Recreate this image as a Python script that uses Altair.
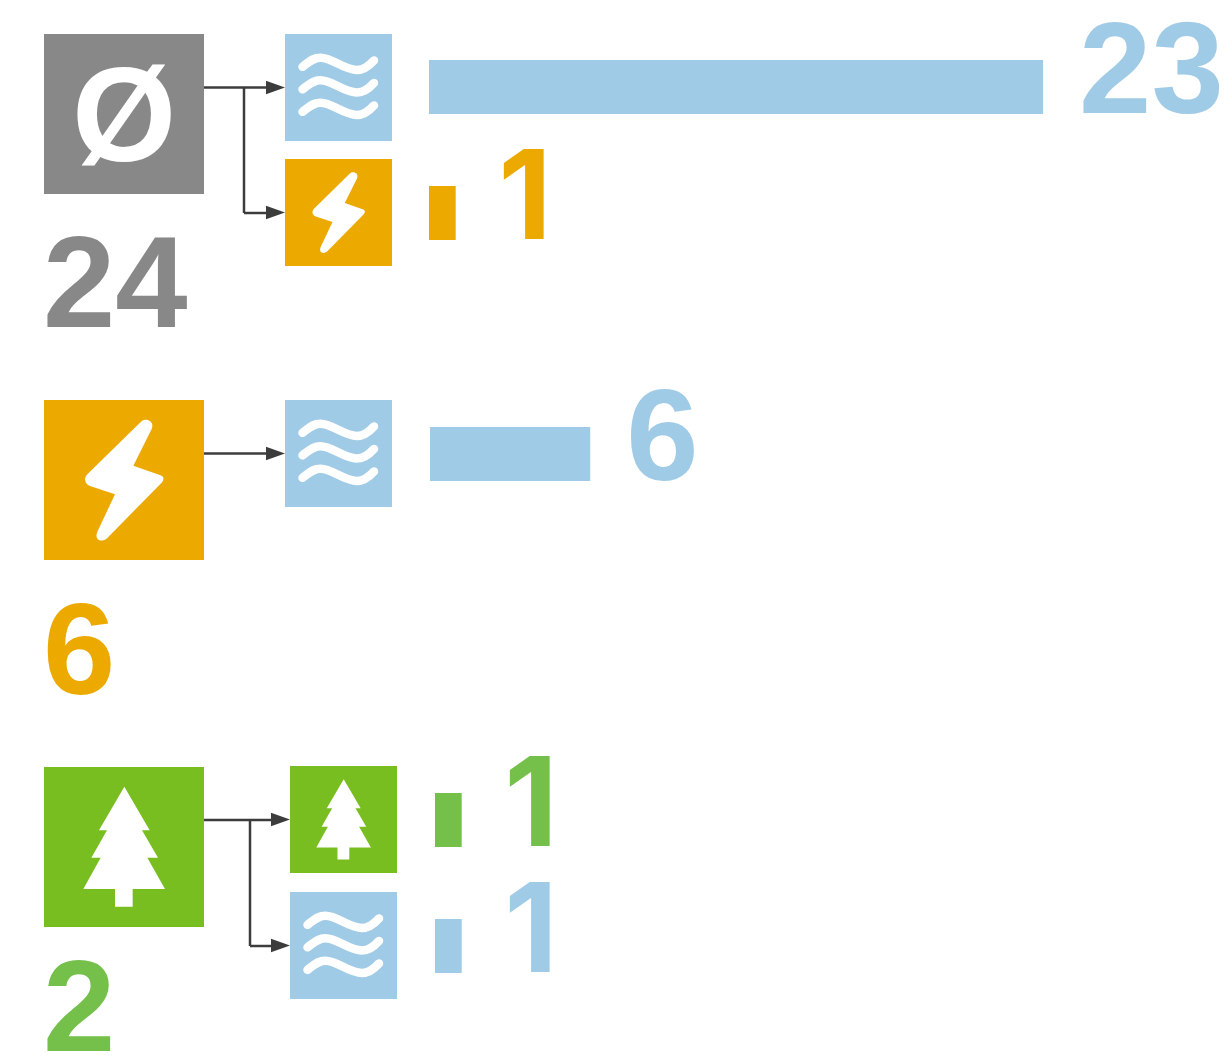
import re
import altair as alt
import pandas as pd

# ---- values ----
source_kinds = ["none", "power", "forest"]
source_counts = [24, 6, 2]
source_symbols = ["Ø", "", ""]
target_sources = ["none", "none", "power", "forest", "forest"]
target_kinds = ["water", "power", "water", "forest", "water"]
target_counts = [23, 1, 6, 1, 1]

# ---- styles and layout ----
BOX = {"none": "#888888", "power": "#ECAA00", "water": "#A0CBE6", "forest": "#78BE21"}
INK = {"none": "#888888", "power": "#ECAA00", "water": "#A0CBE6", "forest": "#74C04A"}
FONT = "Liberation Sans"
ONE_FONT = "Inter"
PX_PER_UNIT = 26.7
BIG, SMALL = 160, 107
source_left = [44, 44, 44]
source_top = [34, 400, 767]
source_label_x = [43, 43, 43]
source_label_base = [327, 694, 1051]
target_left = [285, 285, 285, 290, 290]
target_top = [34, 159, 400, 766, 892]
bar_left = [429, 429, 430, 435, 435]
bar_top = [60, 186, 427, 793, 919]
BAR_H = 54
label_gap = [36, 42.5, 36, 42.5, 42.5]
label_base = [113, 239, 480, 846, 972]
LINE = "#3C3C3C"


def normalise(path, span):
    def sub(m):
        x, y = float(m.group(1)), float(m.group(2))
        return f"{2 * x / span - 1:.4f},{2 * y / span - 1:.4f}"
    return re.sub(r"(-?[\d.]+),(-?[\d.]+)", sub, path)


BOLT = normalise(
    "M291,65 C304,52 333,62 323,87 L268,197 L345,224 C362,228 362,240 350,251 L190,414 "
    "C172,430 150,420 160,395 L213,283 L138,258 C120,250 120,233 130,223 Z", 480)
TREE = normalise(
    "M241,59 L317,190 L294,190 L342,272 L310,272 L363,366 L266,366 L266,419 "
    "L213,419 L213,366 L118,366 L170,272 L142,272 L189,190 L165,190 Z", 480)
_w = "M17.5,{a} C24,{b} 28,{c} 35.5,{c} C47,{c} 59,{d} 72,{d} C79,{d} 84,{e} 89,{f} "
WAVES = normalise(
    "".join(_w.format(a=32.8 + o, b=28 + o, c=23.7 + o, d=36 + o, e=32 + o, f=26.4 + o)
            for o in (0, 22.5, 45)), 107)
ARROW = "M-1,-0.7 L1,0 L-1,0.7 Z"

# ---- tables built from the arrays ----
boxes, icons, bars, labels, rules, heads = [], [], [], [], [], []
for k, n, sym, l, t, lx, lb in zip(source_kinds, source_counts, source_symbols, source_left,
                                   source_top, source_label_x, source_label_base):
    boxes.append(dict(x=l, x2=l + BIG, y=t, y2=t + BIG, c=BOX[k]))
    icons.append(dict(kind=k, x=l + BIG / 2, y=t + BIG / 2, s=BIG ** 2, sym=sym))
    labels.append(dict(x=lx, y=lb, t=str(n), c=INK[k]))

for k, n, l, t, bl, bt, gap, lb in zip(target_kinds, target_counts, target_left, target_top,
                                       bar_left, bar_top, label_gap, label_base):
    boxes.append(dict(x=l, x2=l + SMALL, y=t, y2=t + SMALL, c=BOX[k]))
    icons.append(dict(kind=k, x=l + SMALL / 2, y=t + SMALL / 2, s=SMALL ** 2, sym=""))
    end = bl + n * PX_PER_UNIT
    bars.append(dict(x=bl, x2=end, y=bt, y2=bt + BAR_H, c=INK[k]))
    labels.append(dict(x=end + gap, y=lb, t=str(n), c=INK[k]))
    heads.append(dict(x=l - 9.5, y=t + SMALL / 2))

src_right = source_left[0] + BIG
for y, l in [(87.5, 285), (453.5, 285), (820, 290)]:
    rules.append(dict(x=src_right, x2=l - 15, y=y, y2=y))
for bx, y0, y1, l in [(244, 87.5, 213, 285), (250, 820, 946, 290)]:
    rules.append(dict(x=bx, x2=bx, y=y0, y2=y1))
    rules.append(dict(x=bx, x2=l - 15, y=y1, y2=y1))

X = alt.Scale(domain=[8, 1222], range=[0, 1214])
Y = alt.Scale(domain=[8, 1052], range=[0, 1044])
ex = alt.X("x:Q", scale=X, axis=None)
ey = alt.Y("y:Q", scale=Y, axis=None)
ic = pd.DataFrame(icons)
lab = pd.DataFrame(labels)

box_layer = alt.Chart(pd.DataFrame(boxes)).mark_rect(strokeWidth=0).encode(
    x=ex, x2="x2:Q", y=ey, y2="y2:Q", color=alt.Color("c:N", scale=None))
bar_layer = alt.Chart(pd.DataFrame(bars)).mark_rect(strokeWidth=0).encode(
    x=ex, x2="x2:Q", y=ey, y2="y2:Q", color=alt.Color("c:N", scale=None))
rule_layer = alt.Chart(pd.DataFrame(rules)).mark_rule(color=LINE, strokeWidth=2.5).encode(
    x=ex, x2="x2:Q", y=ey, y2="y2:Q")
head_layer = alt.Chart(pd.DataFrame(heads)).mark_point(
    shape=ARROW, filled=True, color=LINE, opacity=1, size=19 ** 2).encode(x=ex, y=ey)


def icon_layer(kind, path, **mark):
    return alt.Chart(ic[ic.kind == kind]).mark_point(shape=path, opacity=1, **mark).encode(
        x=ex, y=ey, size=alt.Size("s:Q", scale=None))


def text_layer(frame, font, size):
    return alt.Chart(frame).mark_text(
        font=font, fontWeight="bold", fontSize=size, align="left", baseline="alphabetic").encode(
        x=ex, y=ey, text="t:N", color=alt.Color("c:N", scale=None))


bolt_layer = icon_layer("power", BOLT, filled=True, color="white")
tree_layer = icon_layer("forest", TREE, filled=True, color="white")
wave_layer = icon_layer("water", WAVES, filled=False, color="white", strokeWidth=8.5,
                        strokeCap="round")
sym_layer = alt.Chart(ic[ic.sym != ""]).mark_text(
    font=FONT, fontWeight="bold", fontSize=134, color="white", align="center",
    baseline="alphabetic").encode(x=ex, y=alt.Y("y2:Q", scale=Y, axis=None), text="sym:N"
    ).transform_calculate(y2="datum.y + 47")

chart = alt.layer(box_layer, bar_layer, rule_layer, head_layer, bolt_layer, tree_layer,
                  wave_layer, sym_layer,
                  text_layer(lab[lab.t != "1"], FONT, 130),
                  text_layer(lab[lab.t == "1"], ONE_FONT, 124)).properties(
    width=1214, height=1044, padding=0,
    autosize=alt.AutoSizeParams(type="none"),
).configure_view(stroke=None)

chart.save("out.html", embed_options={"renderer": "svg", "actions": False})
